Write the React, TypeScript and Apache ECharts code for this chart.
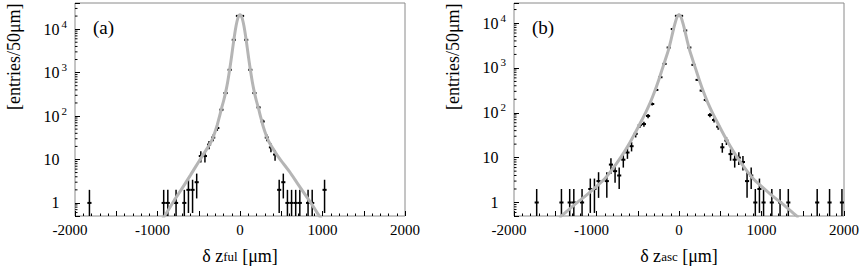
import React, { useEffect, useRef } from 'react';
import * as echarts from 'echarts';

// ---------- data ----------
// Panel (a): δz_ful histogram (bin centres in µm, entries per 50 µm bin)
const fulBinCenters = [-1825, -925, -875, -775, -675, -625, -575, -525, -475, -425, -375, -325, -275, -225, -175, -125, -75, -25, 25, 75, 125, 175, 225, 275, 325, 375, 425, 475, 525, 575, 625, 675, 725, 825, 875, 1025];
const fulEntries = [1, 1, 1, 1, 1, 2, 2, 3, 12, 12, 22, 32, 53, 140, 338, 1160, 5680, 20200, 20200, 5680, 1160, 338, 158, 75, 32, 19, 13, 2, 3, 1, 1, 1, 1, 1, 1, 2];
// Panel (a) fit curve
const fulFitX = [-950, -900, -800, -700, -600, -500, -450, -400, -350, -325, -300, -275, -250, -225, -200, -175, -150, -125, -100, -75, -50, -25, 0, 25, 50, 75, 100, 125, 150, 175, 200, 225, 250, 275, 300, 325, 350, 400, 450, 500, 600, 700, 800, 900, 950, 1000];
const fulFitY = [0.4, 0.55, 1.12, 2.19, 4.37, 8.9, 12.6, 17.8, 25.7, 33, 44.7, 63.1, 95.5, 148, 219, 347, 603, 1175, 2512, 5623, 11220, 18197, 21380, 18197, 11220, 5623, 2512, 1175, 603, 347, 219, 148, 95.5, 63.1, 44.7, 33, 25.7, 17.8, 12.6, 9.3, 5.25, 2.75, 1.45, 0.76, 0.54, 0.39];

// Panel (b): δz_asc histogram
const ascBinCenters = [-1725, -1425, -1325, -1275, -1175, -1075, -1025, -975, -875, -825, -775, -725, -675, -625, -575, -525, -475, -425, -375, -325, -275, -225, -175, -125, -75, -25, 25, 75, 125, 175, 225, 275, 325, 375, 425, 475, 525, 575, 625, 675, 725, 775, 825, 875, 925, 975, 1025, 1125, 1225, 1325, 1675, 1825, 1975];
const ascEntries = [1, 1, 1, 1, 1, 2, 2, 3, 3, 7, 5, 4, 9, 13, 18, 34, 53, 56, 85, 157, 323, 620, 1230, 2850, 7350, 14500, 14500, 6840, 2850, 1170, 541, 312, 193, 89, 69, 49, 17, 24, 12, 9, 10, 8, 3, 4, 1, 2, 1, 1, 1, 1, 1, 1, 1];
// Panel (b) fit curve
const ascFitX = [-1450, -1400, -1300, -1200, -1100, -1000, -900, -800, -700, -600, -500, -450, -400, -350, -300, -250, -200, -150, -125, -100, -75, -50, -25, 0, 25, 50, 75, 100, 125, 150, 200, 250, 300, 350, 400, 450, 500, 600, 700, 800, 900, 1000, 1100, 1200, 1300, 1400, 1450];
const ascFitY = [0.46, 0.55, 0.79, 1.12, 1.58, 2.29, 3.39, 5.75, 10.5, 20.9, 45.7, 69.2, 105, 166, 282, 513, 977, 1862, 2630, 3981, 6310, 9550, 13490, 15490, 13490, 9550, 6310, 3981, 2630, 1862, 977, 513, 282, 166, 105, 69.2, 45.7, 20.9, 10.5, 5.75, 3.39, 2.29, 1.58, 1.12, 0.79, 0.55, 0.46];

// axis ranges / ticks
const xRange = [-2000, 2000];
const xTickStep = 500;
const xLabelStep = 1000;
const yMin = 0.5;
const yMaxes = [40000, 28000];
const yMinorTicks = [0.6, 0.7, 0.8, 0.9, 2, 3, 4, 5, 6, 7, 8, 9, 20, 30, 40, 50, 60, 70, 80, 90, 200, 300, 400, 500, 600, 700, 800, 900, 2000, 3000, 4000, 5000, 6000, 7000, 8000, 9000, 20000, 30000];
const binHalfWidth = 25;

// texts
const panelTags = ['(a)', '(b)'];
const xSubscripts = ['ful', 'asc'];
const yName = '[entries/50μm]';

// ---------- layout / style ----------
const SERIF = 'Liberation Serif, Times New Roman, DejaVu Serif, serif';
const GRID_LEFT = [75, 514];
const GRID_TOP = 3;
const GRID_W = 330;
const GRID_H = 213;
const FIT_COLOR = '#b5b5b5';
const FRAME_COLOR = '#8a8a8a';

function renderErrorBar(params: any, api: any) {
  const x = api.value(0);
  const n = api.value(1);
  const e = Math.sqrt(n);
  const top = api.coord([x, n + e]);
  const bot = api.coord([x, Math.max(n - e, 0.05)]);
  const l = api.coord([x - binHalfWidth, n]);
  const r = api.coord([x + binHalfWidth, n]);
  return {
    type: 'group',
    children: [
      { type: 'line', shape: { x1: top[0], y1: top[1], x2: bot[0], y2: bot[1] }, style: { stroke: '#000', lineWidth: 1.5 } },
      { type: 'line', shape: { x1: l[0], y1: l[1], x2: r[0], y2: r[1] }, style: { stroke: '#000', lineWidth: 2 } },
    ],
  };
}

function renderMinorTick(params: any, api: any) {
  const p = api.coord([api.value(0), api.value(1)]);
  return {
    type: 'line',
    shape: { x1: p[0], y1: p[1], x2: p[0] + 2.5, y2: p[1] },
    style: { stroke: '#000', lineWidth: 1 },
  };
}

function yLabel(v: number) {
  const lg = Math.log10(v);
  const k = Math.round(lg);
  if (Math.abs(lg - k) > 1e-6) return '';
  if (k === 0) return '{c|1}';
  if (k === 1) return '{c|10}';
  return `{b|10}{s|${k}}`;
}

function xLabel(v: number) {
  if (Math.abs(v % xLabelStep) > 1e-6) return '';
  return v < 0 ? `{n|${v}}` : `{p|${v}}`;
}

function buildOption() {
  const panels = [
    { centers: fulBinCenters, entries: fulEntries, fitX: fulFitX, fitY: fulFitY },
    { centers: ascBinCenters, entries: ascEntries, fitX: ascFitX, fitY: ascFitY },
  ];
  const grid: any[] = [];
  const xAxis: any[] = [];
  const yAxis: any[] = [];
  const series: any[] = [];
  const graphic: any[] = [];

  panels.forEach((p, i) => {
    grid.push({
      left: GRID_LEFT[i], top: GRID_TOP, width: GRID_W, height: GRID_H,
      show: true, borderColor: FRAME_COLOR, borderWidth: 1, backgroundColor: 'transparent',
      containLabel: false, outerBoundsMode: 'none',
    });
    xAxis.push({
      type: 'value', gridIndex: i, min: xRange[0], max: xRange[1], interval: xTickStep,
      axisLine: { show: false, onZero: false }, splitLine: { show: false },
      axisTick: { show: true, inside: true, length: 5, lineStyle: { color: '#000', width: 1 } },
      minorTick: { show: true, splitNumber: 5, length: 2.5, lineStyle: { color: '#000', width: 1 } },
      axisLabel: {
        margin: 6, color: '#000', fontFamily: SERIF, fontSize: 15, formatter: xLabel,
        rich: {
          n: { fontFamily: SERIF, fontSize: 15, color: '#000', padding: [0, 10, 0, 0] },
          p: { fontFamily: SERIF, fontSize: 15, color: '#000' },
        },
      },
      name: `{d|δ z}{s|${xSubscripts[i]}}{d| [μm]}`,
      nameLocation: 'middle', nameGap: 30,
      nameTextStyle: {
        color: '#000', fontFamily: SERIF, fontSize: 18,
        rich: {
          d: { fontFamily: SERIF, fontSize: 18, lineHeight: 20, color: '#000' },
          s: { fontFamily: SERIF, fontSize: 13, lineHeight: 11, color: '#000' },
        },
      },
    });
    yAxis.push({
      type: 'log', logBase: 10, gridIndex: i, min: yMin, max: yMaxes[i],
      axisLine: { show: false, onZero: false }, splitLine: { show: false },
      axisTick: { show: true, inside: true, length: 5, lineStyle: { color: '#000', width: 1 } },
      axisLabel: {
        margin: 8, color: '#000', fontFamily: SERIF, fontSize: 16, formatter: yLabel,
        rich: {
          c: { fontFamily: SERIF, fontSize: 16, lineHeight: 22, color: '#000', padding: [0, 7.5, 0, 0] },
          b: { fontFamily: SERIF, fontSize: 16, lineHeight: 22, color: '#000' },
          s: { fontFamily: SERIF, fontSize: 11, lineHeight: 11, verticalAlign: 'top', color: '#000', padding: [0, 0, 0, 2] },
        },
      },
    });
    series.push({
      type: 'line', xAxisIndex: i, yAxisIndex: i, showSymbol: false, smooth: 0.3,
      data: p.fitX.map((x, j) => [x, p.fitY[j]]),
      lineStyle: { color: FIT_COLOR, width: 3 }, clip: true, silent: true,
    });
    series.push({
      type: 'custom', xAxisIndex: i, yAxisIndex: i, renderItem: renderErrorBar, clip: true,
      data: p.centers.map((x, j) => [x, p.entries[j]]), silent: true,
    });
    series.push({
      type: 'custom', xAxisIndex: i, yAxisIndex: i, renderItem: renderMinorTick, clip: true,
      data: yMinorTicks.map((v) => [xRange[0], v]), silent: true,
    });
    graphic.push({
      type: 'text', x: GRID_LEFT[i] + 18, y: 27.5,
      style: { text: panelTags[i], font: `19px ${SERIF}`, fill: '#000', textAlign: 'left', textVerticalAlign: 'middle' },
    });
    graphic.push({
      type: 'text', x: GRID_LEFT[i] - 61.5, y: 56.7, rotation: Math.PI / 2,
      style: { text: yName, font: `18px ${SERIF}`, fill: '#000', textAlign: 'center', textVerticalAlign: 'middle' },
    });
  });

  return { animation: false, grid, xAxis, yAxis, series, graphic };
}

export default function App() {
  const ref = useRef<HTMLDivElement>(null);
  useEffect(() => {
    document.body.style.margin = '0';
    const chart = echarts.init(ref.current as HTMLDivElement, null, { renderer: 'svg' });
    chart.setOption(buildOption() as any);
    return () => chart.dispose();
  }, []);
  return <div ref={ref} style={{ position: 'absolute', left: 0, top: 0, width: 862, height: 274, background: '#fff' }} />;
}
